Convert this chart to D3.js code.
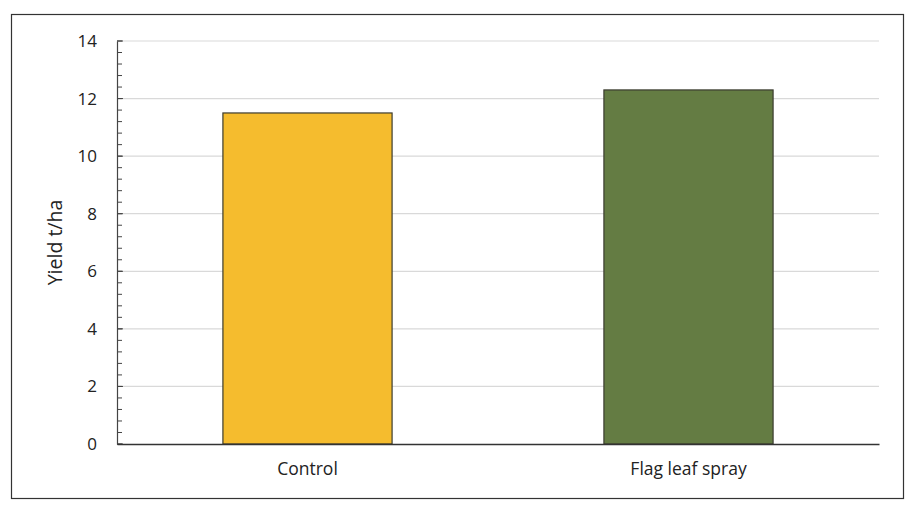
<!DOCTYPE html>
<html>
<head>
<meta charset="utf-8">
<script src="https://cdn.jsdelivr.net/npm/d3@7"></script>
<style>
  html, body { margin: 0; padding: 0; background: #fff; }
  svg text { font-family: "Open Sans", "Noto Sans", sans-serif; fill: #222; }
</style>
</head>
<body>
<svg id="chart" width="906" height="507"></svg>
<script>
// Yield by treatment
const categories = ["Control", "Flag leaf spray"];
const yields = [11.5, 12.3];
const barColors = ["#F5BC2E", "#647C43"];
const yTicks = [0, 2, 4, 6, 8, 10, 12, 14];
const yMinorStep = 0.4;

const svg = d3.select("#chart");
const W = 906, H = 507;
const margin = { left: 117, right: 27, top: 41, bottom: 63 };

// outer frame
svg.append("rect")
  .attr("x", 11.5).attr("y", 14.5)
  .attr("width", 892).attr("height", 484)
  .attr("fill", "none").attr("stroke", "#333").attr("stroke-width", 1.2);

const x = d3.scaleBand()
  .domain(categories)
  .range([margin.left, W - margin.right])
  .paddingInner(0.556)
  .paddingOuter(0.278);

const y = d3.scaleLinear()
  .domain([0, 14])
  .range([H - margin.bottom, margin.top]);

// gridlines
svg.append("g")
  .selectAll("line")
  .data(yTicks.filter(d => d > 0))
  .join("line")
  .attr("x1", margin.left).attr("x2", W - margin.right)
  .attr("y1", d => y(d)).attr("y2", d => y(d))
  .attr("stroke", "#d9d9d9").attr("stroke-width", 1.2);

// bars
svg.append("g")
  .selectAll("rect")
  .data(categories)
  .join("rect")
  .attr("x", d => x(d))
  .attr("width", x.bandwidth())
  .attr("y", (d, i) => y(yields[i]))
  .attr("height", (d, i) => y(0) - y(yields[i]))
  .attr("fill", (d, i) => barColors[i])
  .attr("stroke", "#3b3b2f").attr("stroke-width", 1.2);

// minor ticks on y axis (inside)
const minor = d3.range(0, 14 + 1e-9, yMinorStep);
svg.append("g")
  .selectAll("line")
  .data(minor)
  .join("line")
  .attr("x1", margin.left).attr("x2", margin.left + 5)
  .attr("y1", d => y(d)).attr("y2", d => y(d))
  .attr("stroke", "#444").attr("stroke-width", 1);

// y axis
const yAxis = svg.append("g")
  .attr("transform", `translate(${margin.left},0)`)
  .call(d3.axisLeft(y).tickValues(yTicks).tickSize(0).tickPadding(20).tickFormat(d3.format("d")));
yAxis.select(".domain").attr("stroke", "#444").attr("stroke-width", 1.2);
yAxis.selectAll("text").attr("font-size", 17).style("font-family", "Open Sans, sans-serif").attr("fill", "#222");

// major ticks (inside)
svg.append("g")
  .selectAll("line")
  .data(yTicks)
  .join("line")
  .attr("x1", margin.left).attr("x2", margin.left + 6)
  .attr("y1", d => y(d)).attr("y2", d => y(d))
  .attr("stroke", "#444").attr("stroke-width", 1);

// x axis
const xAxis = svg.append("g")
  .attr("transform", `translate(0,${y(0)})`)
  .call(d3.axisBottom(x).tickSize(0).tickPadding(19));
xAxis.select(".domain").attr("stroke", "#333").attr("stroke-width", 1.4);
xAxis.selectAll("text").attr("font-size", 17.5).style("font-family", "Open Sans, sans-serif").attr("fill", "#222");

// y title
svg.append("text")
  .attr("transform", `translate(62,${(y(0) + y(14)) / 2}) rotate(-90)`)
  .attr("text-anchor", "middle")
  .attr("font-size", 19.5)
  .text("Yield t/ha");
</script>
</body>
</html>
